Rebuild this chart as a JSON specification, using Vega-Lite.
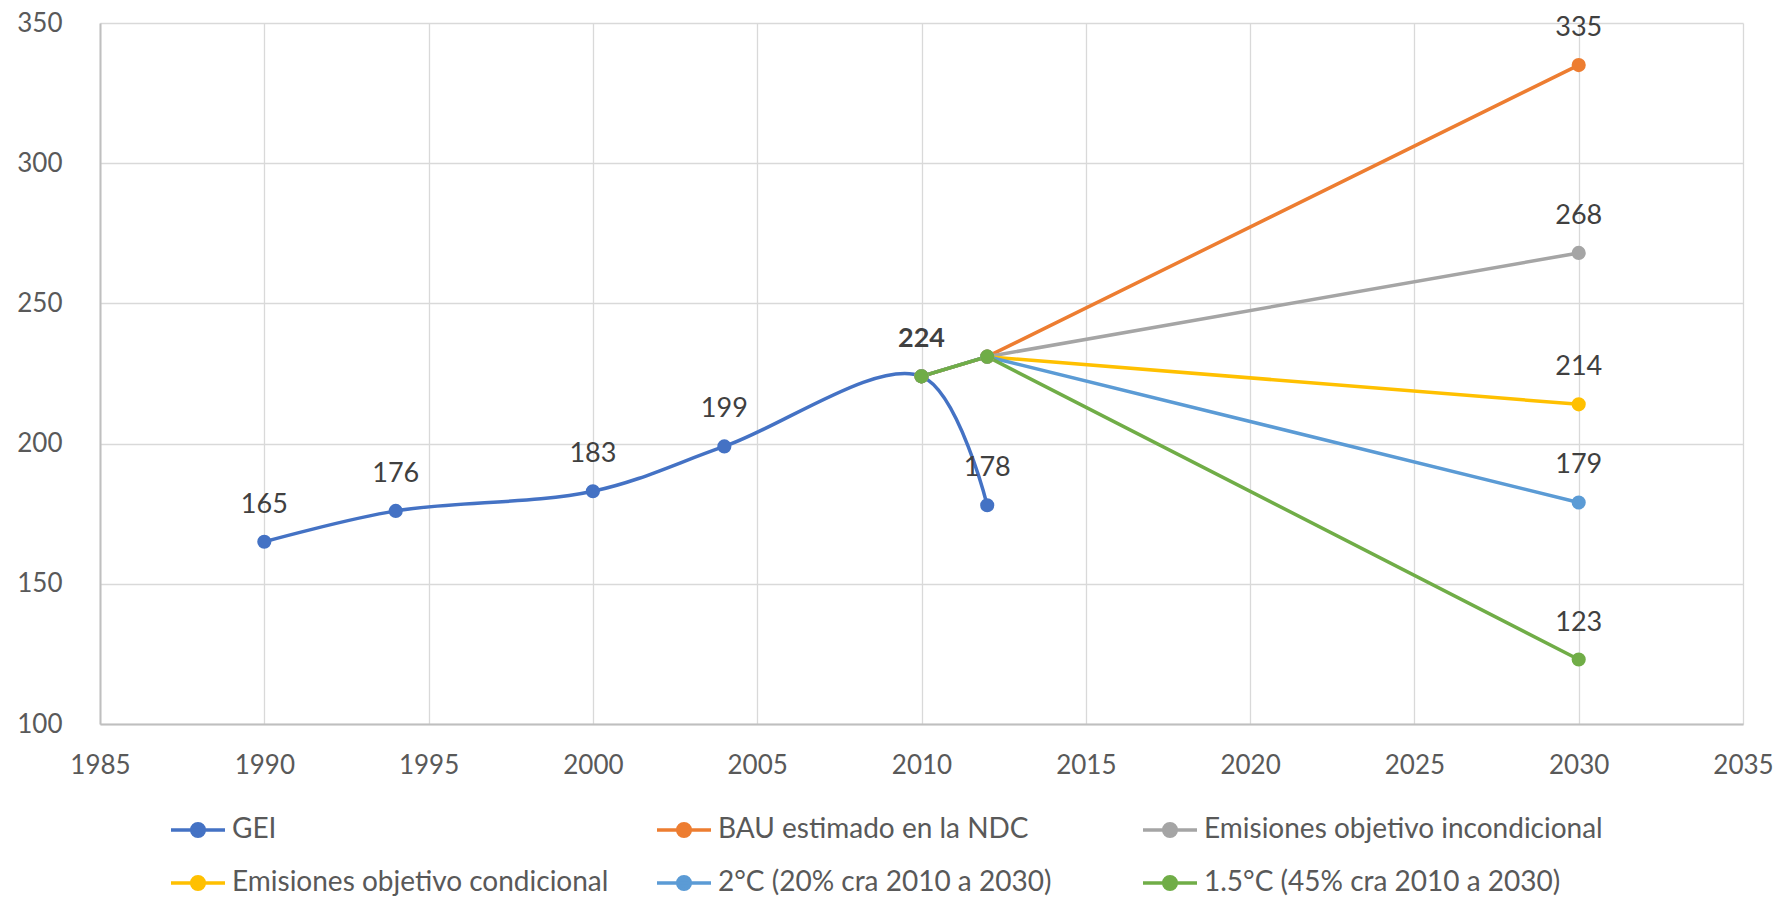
{
  "$schema": "https://vega.github.io/schema/vega-lite/v6.json",
  "width": 1643,
  "height": 701,
  "autosize": {"type": "none"},
  "padding": {"left": 100, "top": 23, "right": 38, "bottom": 176},
  "background": "white",
  "config": {"font": "Lato", "view": {"stroke": null}},
  "data": {
    "values": [
      {"series": "GEI", "year": 1990, "value": 165},
      {"series": "GEI", "year": 1994, "value": 176},
      {"series": "GEI", "year": 2000, "value": 183},
      {"series": "GEI", "year": 2004, "value": 199},
      {"series": "GEI", "year": 2010, "value": 224},
      {"series": "GEI", "year": 2012, "value": 178},
      {"series": "BAU estimado en la NDC", "year": 2010, "value": 224},
      {"series": "BAU estimado en la NDC", "year": 2012, "value": 231},
      {"series": "BAU estimado en la NDC", "year": 2030, "value": 335},
      {"series": "Emisiones objetivo incondicional", "year": 2010, "value": 224},
      {"series": "Emisiones objetivo incondicional", "year": 2012, "value": 231},
      {"series": "Emisiones objetivo incondicional", "year": 2030, "value": 268},
      {"series": "Emisiones objetivo condicional", "year": 2010, "value": 224},
      {"series": "Emisiones objetivo condicional", "year": 2012, "value": 231},
      {"series": "Emisiones objetivo condicional", "year": 2030, "value": 214},
      {"series": "2°C (20% cra 2010 a 2030)", "year": 2010, "value": 224},
      {"series": "2°C (20% cra 2010 a 2030)", "year": 2012, "value": 231},
      {"series": "2°C (20% cra 2010 a 2030)", "year": 2030, "value": 179},
      {"series": "1.5°C (45% cra 2010 a 2030)", "year": 2010, "value": 224},
      {"series": "1.5°C (45% cra 2010 a 2030)", "year": 2012, "value": 231},
      {"series": "1.5°C (45% cra 2010 a 2030)", "year": 2030, "value": 123}
    ]
  },
  "encoding": {
    "x": {
      "field": "year", "type": "quantitative",
      "scale": {"domain": [1985, 2035], "nice": false, "zero": false},
      "axis": {
        "values": [1985, 1990, 1995, 2000, 2005, 2010, 2015, 2020, 2025, 2030, 2035],
        "format": "d", "title": null, "grid": true, "gridColor": "#D9D9D9", "gridWidth": 1.3,
        "domainColor": "#BFBFBF", "domainWidth": 2, "ticks": false, "labelPadding": 28,
        "labelFontSize": 26, "labelColor": "#595959", "labelFlush": false, "labelOverlap": false
      }
    },
    "y": {
      "field": "value", "type": "quantitative",
      "scale": {"domain": [100, 350], "nice": false, "zero": false},
      "axis": {
        "values": [100, 150, 200, 250, 300, 350],
        "title": null, "grid": true, "gridColor": "#D9D9D9", "gridWidth": 1.3,
        "domainColor": "#BFBFBF", "domainWidth": 2, "ticks": false, "labelPadding": 38,
        "labelFontSize": 26, "labelColor": "#595959", "labelOverlap": false
      }
    },
    "color": {
      "field": "series", "type": "nominal",
      "scale": {
        "domain": ["GEI", "BAU estimado en la NDC", "Emisiones objetivo incondicional", "Emisiones objetivo condicional", "2°C (20% cra 2010 a 2030)", "1.5°C (45% cra 2010 a 2030)"],
        "range": ["#4472C4", "#ED7D31", "#A5A5A5", "#FFC000", "#5B9BD5", "#70AD47"]
      },
      "legend": {
        "title": null, "orient": "none", "legendX": 69, "legendY": 778,
        "direction": "horizontal", "columns": 3,
        "symbolType": "M-1,0H1M0.233,0A0.233,0.233,0,1,1,-0.233,0A0.233,0.233,0,1,1,0.233,0Z",
        "symbolSize": 2916, "symbolStrokeWidth": 3.5,
        "labelFontSize": 28, "labelColor": "#595959", "labelOffset": 5, "labelLimit": 0,
        "columnPadding": 19, "rowPadding": 10, "gridAlign": "all",
        "encode": {
          "symbols": {
            "update": {
              "fill": {"scale": "color", "field": "value"},
              "stroke": {"scale": "color", "field": "value"},
              "opacity": {"value": 1}
            }
          }
        }
      }
    }
  },
  "layer": [
    {
      "transform": [{"filter": "datum.series === 'GEI'"}],
      "mark": {"type": "line", "interpolate": "catmull-rom", "strokeWidth": 3.5}
    },
    {
      "transform": [{"filter": "datum.series !== 'GEI'"}],
      "mark": {"type": "line", "strokeWidth": 3.5}
    },
    {
      "mark": {"type": "point", "filled": true, "size": 200, "opacity": 1}
    },
    {
      "transform": [{"filter": "(datum.series === 'GEI' && datum.year !== 2010) || datum.year === 2030"}],
      "mark": {"type": "text", "dy": -37, "fontSize": 27},
      "encoding": {"text": {"field": "value"}, "color": {"value": "#404040"}}
    },
    {
      "transform": [{"filter": "datum.series === 'GEI' && datum.year === 2010"}],
      "mark": {"type": "text", "dy": -37, "fontSize": 27, "fontWeight": "bold"},
      "encoding": {"text": {"field": "value"}, "color": {"value": "#404040"}}
    }
  ]
}
